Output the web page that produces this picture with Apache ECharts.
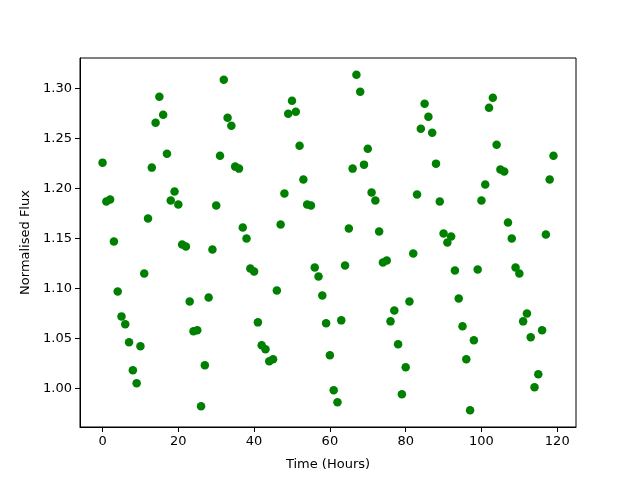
<!DOCTYPE html>
<html>
<head>
<meta charset="utf-8">
<script src="https://cdn.jsdelivr.net/npm/echarts@6/dist/echarts.min.js"></script>
<style>html,body{margin:0;padding:0;background:#fff}#c{width:640px;height:480px}</style>
</head>
<body>
<div id="c"></div>
<script>
const hours = [];
for (let i = 0; i < 120; i++) hours.push(i);
const flux = [
1.226,1.187,1.189,1.147,1.097,1.072,1.064,1.046,1.018,1.005,
1.042,1.115,1.170,1.221,1.266,1.292,1.274,1.235,1.188,1.197,
1.184,1.144,1.142,1.087,1.057,1.058,0.982,1.023,1.091,1.139,
1.183,1.233,1.309,1.271,1.263,1.222,1.220,1.161,1.150,1.120,
1.117,1.066,1.043,1.039,1.027,1.029,1.098,1.164,1.195,1.275,
1.288,1.277,1.243,1.209,1.184,1.183,1.121,1.112,1.093,1.065,
1.033,0.998,0.986,1.068,1.123,1.160,1.220,1.314,1.297,1.224,
1.240,1.196,1.188,1.157,1.126,1.128,1.067,1.078,1.044,0.994,
1.021,1.087,1.135,1.194,1.260,1.285,1.272,1.256,1.225,1.187,
1.155,1.146,1.152,1.118,1.090,1.062,1.029,0.978,1.048,1.119,
1.188,1.204,1.281,1.291,1.244,1.219,1.217,1.166,1.150,1.121,
1.115,1.067,1.075,1.051,1.001,1.014,1.058,1.154,1.209,1.233
];
const xTicks = [0,20,40,60,80,100,120];
const yTicks = [1.00,1.05,1.10,1.15,1.20,1.25,1.30];

const font = 'DejaVu Sans';
const chart = echarts.init(document.getElementById('c'), null, {renderer:'canvas'});
chart.setOption({
  animation:false,
  backgroundColor:'#fff',
  grid:{left:80,right:64,top:58,bottom:53,show:true,borderColor:'#000',borderWidth:1,backgroundColor:'transparent'},
  xAxis:{
    type:'value', min:-5.95, max:124.95,
    name:'Time (Hours)', nameLocation:'middle', nameGap:31,
    nameTextStyle:{fontFamily:font,fontSize:13,color:'#000'},
    axisLine:{show:true,onZero:false,lineStyle:{color:'#000',width:1}},
    axisTick:{show:true,length:5,inside:false,customValues:xTicks,lineStyle:{color:'#000'}},
    axisLabel:{customValues:xTicks,margin:8,fontFamily:font,fontSize:13,color:'#000'},
    splitLine:{show:false}
  },
  yAxis:{
    type:'value', min:0.9612, max:1.3308,
    name:'Normalised Flux', nameLocation:'middle', nameGap:46,
    nameTextStyle:{fontFamily:font,fontSize:13,color:'#000'},
    axisLine:{show:true,onZero:false,lineStyle:{color:'#000',width:1}},
    axisTick:{show:true,length:5,inside:false,customValues:yTicks,lineStyle:{color:'#000'}},
    axisLabel:{customValues:yTicks,margin:8,fontFamily:font,fontSize:13,color:'#000',
      formatter:v=>v.toFixed(2)},
    splitLine:{show:false}
  },
  series:[{
    type:'scatter',
    data:hours.map((h,i)=>[h,flux[i]]),
    symbol:'circle', symbolSize:8.5,
    itemStyle:{color:'#008000',opacity:1}
  }]
});
</script>
</body>
</html>
